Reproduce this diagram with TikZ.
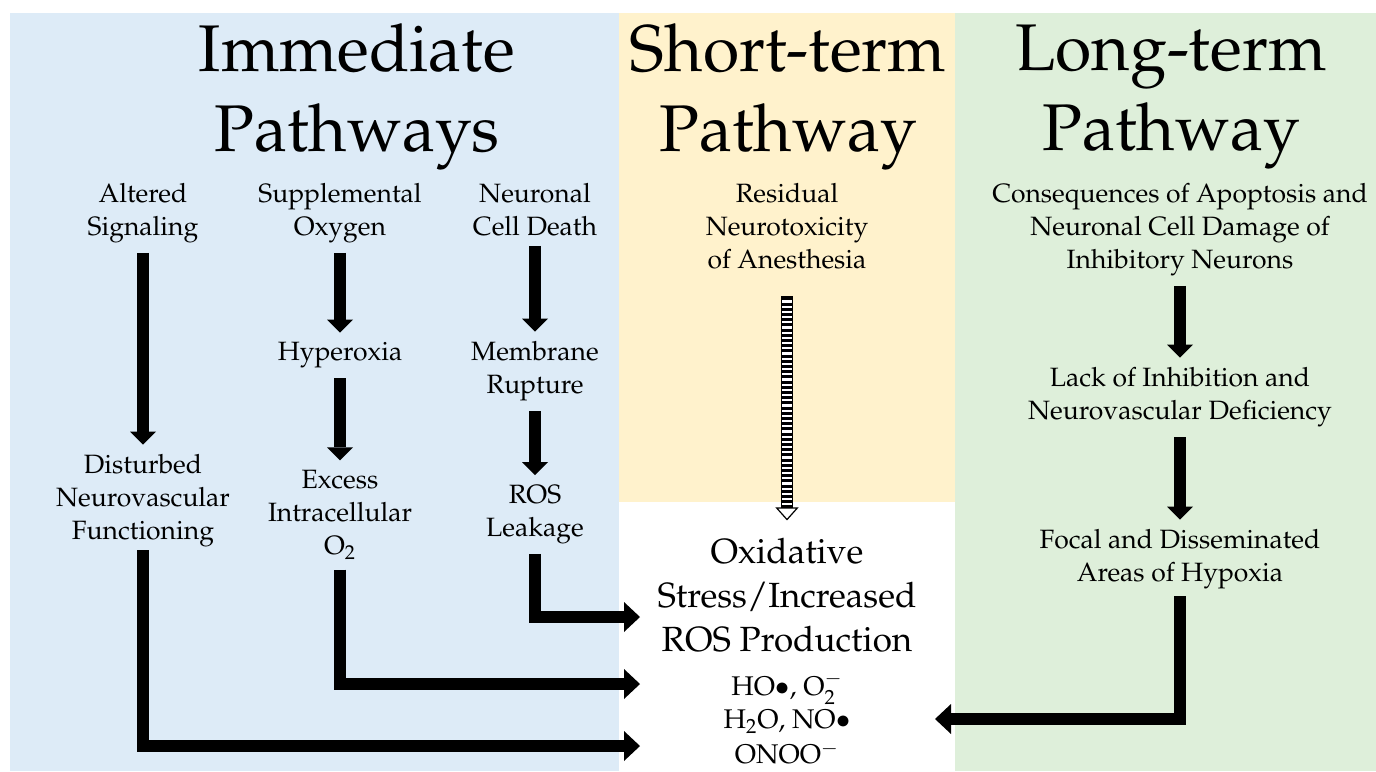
\documentclass[tikz,border=0pt]{standalone}
\usepackage[T1]{fontenc}
\usepackage{mathpazo}
\usepackage{tikz}
\usetikzlibrary{arrows.meta}

\definecolor{immblue}{RGB}{221,235,247}
\definecolor{shortyellow}{RGB}{255,242,204}
\definecolor{longgreen}{RGB}{222,239,218}

\begin{document}
\begin{tikzpicture}[x=0.5pt,y=0.5pt,yscale=-1,xscale=1,
	txt/.style={inner sep=5pt,outer sep=0pt,align=center,font=\fontsize{13.25}{16.5}\selectfont},
	ttl/.style={inner sep=0pt,outer sep=0pt,align=center,font=\fontsize{33}{40}\selectfont},
	big/.style={inner sep=5pt,outer sep=0pt,align=center,font=\fontsize{17.5}{22}\selectfont},
	chem/.style={inner sep=0pt,outer sep=0pt,font=\fontsize{13.5}{16}\selectfont},
	flow/.style={line width=6.25pt,-{Triangle[width=13pt,length=6.5pt,line width=0pt]}},
	elbowflow/.style={line width=6pt,-{Triangle[width=15pt,length=8pt,line width=0pt]}}]
				\useasboundingbox (0,0) rectangle (1376,771);
				
				%Shape: Rectangle
				\fill[immblue] (10,13) rectangle (619,771);
				%Shape: Rectangle
				\fill[shortyellow] (619,13) rectangle (955,502);
				%Shape: Rectangle
				\fill[longgreen] (955,13) rectangle (1376,771);
				
				% Text Node
				\draw (357,97) node (immttl) [ttl] {Immediate\\Pathways};
				% Text Node
				\draw (788,97) node (shortttl) [ttl] {Short-term\\Pathway};
				% Text Node
				\draw (1171,97) node (longttl) [ttl] {Long-term\\Pathway};
				
				% Text Node
				\draw (143,213) node (alt) [txt] {Altered\\Signaling};
				% Text Node
				\draw (143,501) node (dist) [txt] {Disturbed\\Neurovascular\\Functioning};
				% Text Node
				\draw (340,213) node (supp) [txt] {Supplemental\\Oxygen};
				% Text Node
				\draw (340,355.5) node (hyper) [txt] {Hyperoxia};
				% Text Node
				\draw (340,515) node (excess) [txt] {Excess\\Intracellular\\O$_2$};
				% Text Node
				\draw (535,209.5) node (death) [txt] {Neuronal\\Cell Death};
				% Text Node
				\draw (535,371.5) node (memb) [txt] {Membrane\\Rupture};
				% Text Node
				\draw (535,514.5) node (leak) [txt] {ROS\\Leakage};
				% Text Node
				\draw (787,226) node (resid) [txt] {Residual\\Neurotoxicity\\of Anesthesia};
				% Text Node
				\draw (1180,229.5) node (cons) [txt] {Consequences of Apoptosis and\\Neuronal Cell Damage of\\Inhibitory Neurons};
				% Text Node
				\draw (1180,397.5) node (lack) [txt] {Lack of Inhibition and\\Neurovascular Deficiency};
				% Text Node
				\draw (1180,559.5) node (focal) [txt] {Focal and Disseminated\\Areas of Hypoxia};
				% Text Node
				\draw (787,595) node (oxid) [big] {Oxidative\\Stress/Increased\\ROS Production};
				% Text Node
				\draw (787,688) node (chemA) [chem] {HO$\bullet$, O$_2^-$};
				% Text Node
				\draw (787,722) node (chemB) [chem] {H$_2$O, NO$\bullet$};
				% Text Node
				\draw (787,753) node (chemC) [chem] {ONOO$^-$};
				
				\coordinate (inA) at (640,617);
				\coordinate (inB) at (640,684);
				\coordinate (inC) at (640,746);
				\coordinate (inD) at (935,719);
				
				%Straight Lines
				\draw[flow] (alt) -- (dist);
				\draw[flow] (supp) -- (hyper);
				\draw[flow] (hyper) -- (excess);
				\draw[flow] (death) -- (memb);
				\draw[flow] (memb) -- (leak);
				\draw[flow] (cons) -- (lack);
				\draw[flow] (lack) -- (focal);
				
				%Straight Lines
				\draw[elbowflow,shorten <=-3.5pt] (dist) |- (inC);
				\draw[elbowflow] (excess) |- (inB);
				\draw[elbowflow] (leak) |- (inA);
				\draw[elbowflow,shorten <=-1.5pt] (focal) |- (inD);
				
				%Straight Lines
				\draw[line width=5.75pt,shorten <=8.75pt,shorten >=3.75pt,-{Triangle[open,fill=white,width=11.5pt,length=6.5pt,line width=0.6pt]}] (resid) -- (oxid);
				\draw[line width=4.75pt,white,shorten <=9.25pt,shorten >=10.5pt] (resid) -- (oxid);
				\draw[line width=4.75pt,dash pattern=on 1.5pt off 1.1pt,shorten <=9.25pt,shorten >=10.5pt] (resid) -- (oxid);
				
				\end{tikzpicture}
\end{document}
